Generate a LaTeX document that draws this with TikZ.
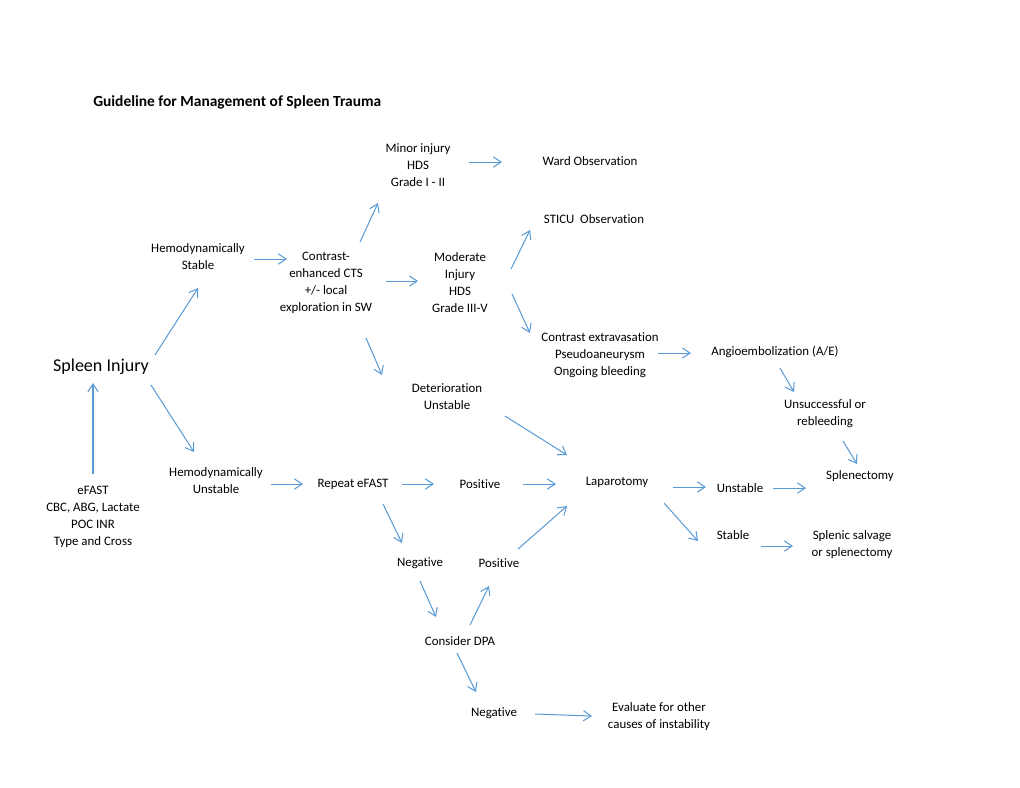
\documentclass[tikz,border=0pt]{standalone}
\usepackage{fontspec}
\setmainfont{Carlito}[Ligatures=NoCommon]
\usetikzlibrary{arrows.meta,calc}
\definecolor{arrblue}{RGB}{91,155,213}
\tikzset{
  txt/.style={align=center, inner sep=0pt, yshift=-0.8pt, font=\fontsize{10}{13.2}\selectfont},
  arr/.style={draw=arrblue, line width=0.8pt, -{Straight Barb[length=6pt,width=8pt]}}
}
\begin{document}
\begin{tikzpicture}[x=0.7765pt,y=-0.7765pt]
\useasboundingbox (0,0) rectangle (1020,788);
\node[anchor=west, inner sep=0pt, font=\fontsize{12}{14}\selectfont\bfseries] (title) at (93,102) {Guideline for Management of Spleen Trauma};
\node[txt, font=\fontsize{14}{17}\selectfont] (spleen) at (101,366) {Spleen Injury};
\node[txt] (labs) at (93,516) {eFAST\\CBC, ABG, Lactate\\POC INR\\Type and Cross};
\node[txt] (hs) at (198,256) {Hemodynamically\\Stable};
\node[txt] (hu) at (216,480) {Hemodynamically\\Unstable};
\node[txt] (cts) at (326,282) {Contrast-\\enhanced CTS\\+/- local\\exploration in SW};
\node[txt] (minor) at (418,164) {Minor injury\\HDS\\Grade I - II};
\node[txt] (ward) at (590,160) {Ward Observation};
\node[txt] (sticu) at (594,218) {STICU\ \ Observation};
\node[txt] (moderate) at (460,282) {Moderate\\Injury\\HDS\\Grade III-V};
\node[txt] (ce) at (600,354) {Contrast extravasation\\Pseudoaneurysm\\Ongoing bleeding};
\node[txt] (ae) at (775,351) {Angioembolization (A/E)};
\node[txt] (unsucc) at (825,413) {Unsuccessful or\\rebleeding};
\node[txt] (splen) at (860,475) {Splenectomy};
\node[txt] (det) at (447,396) {Deterioration\\Unstable};
\node[txt] (repeat) at (353,483) {Repeat eFAST};
\node[txt] (pos1) at (480,483) {Positive};
\node[txt] (lap) at (617,481) {Laparotomy};
\node[txt] (unst2) at (740,487) {Unstable};
\node[txt] (stable) at (733,534) {Stable};
\node[txt] (salvage) at (852,544) {Splenic salvage\\or splenectomy};
\node[txt] (neg1) at (420,562) {Negative};
\node[txt] (pos2) at (499,562) {Positive};
\node[txt] (dpa) at (460,640) {Consider DPA};
\node[txt] (neg2) at (494,712) {Negative};
\node[txt] (eval) at (659,716) {Evaluate for other\\causes of instability};

\draw[arr] ($(labs)+(0,-43)$) -- ($(spleen)+(-8,16)$);
\draw[arr] ($(spleen)+(54,-12)$) -- ($(hs)+(0,31)$);
\draw[arr] ($(spleen)+(50,18)$) -- ($(hu)+(-22,-29)$);
\draw[arr] ($(hs)+(56,2)$) -- ($(cts)+(-39,-24)$);
\draw[arr] ($(cts)+(34,-41)$) -- ($(minor)+(-40,38)$);
\draw[arr] ($(cts)+(60,-2)$) -- ($(moderate)+(-42,-2)$);
\draw[arr] ($(minor)+(51,-3)$) -- ($(ward)+(-88,1)$);
\draw[arr] ($(moderate)+(51,-14)$) -- ($(sticu)+(-64,11)$);
\draw[arr] ($(moderate)+(52,11)$) -- ($(ce)+(-70,-22)$);
\draw[arr] ($(ce)+(58,-2)$) -- ($(ae)+(-84,1)$);
\draw[arr] ($(ae)+(5,16)$) -- ($(unsucc)+(-31,-22)$);
\draw[arr] ($(unsucc)+(18,27)$) -- ($(splen)+(-3,-12)$);
\draw[arr] ($(cts)+(40,55)$) -- ($(det)+(-65,-22)$);
\draw[arr] ($(det)+(58,19)$) -- ($(lap)+(-50,-27)$);
\draw[arr] ($(hu)+(55,3)$) -- ($(repeat)+(-50,0)$);
\draw[arr] ($(repeat)+(49,0)$) -- ($(pos1)+(-46,0)$);
\draw[arr] ($(pos1)+(43,0)$) -- ($(lap)+(-61,2)$);
\draw[arr] ($(repeat)+(30,20)$) -- ($(neg1)+(-18,-20)$);
\draw[arr] ($(neg1)+(0,18)$) -- ($(dpa)+(-24,-24)$);
\draw[arr] ($(dpa)+(10,-16)$) -- ($(pos2)+(-10,23)$);
\draw[arr] ($(pos2)+(19,-14)$) -- ($(lap)+(-50,24)$);
\draw[arr] ($(dpa)+(-3,12)$) -- ($(neg2)+(-18,-21)$);
\draw[arr] ($(neg2)+(41,1)$) -- ($(eval)+(-67,-1)$);
\draw[arr] ($(lap)+(56,5)$) -- ($(unst2)+(-34,-1)$);
\draw[arr] ($(unst2)+(33,0)$) -- ($(splen)+(-54,12)$);
\draw[arr] ($(lap)+(47,21)$) -- ($(stable)+(-35,6)$);
\draw[arr] ($(stable)+(28,11)$) -- ($(salvage)+(-59,1)$);
\end{tikzpicture}
\end{document}
